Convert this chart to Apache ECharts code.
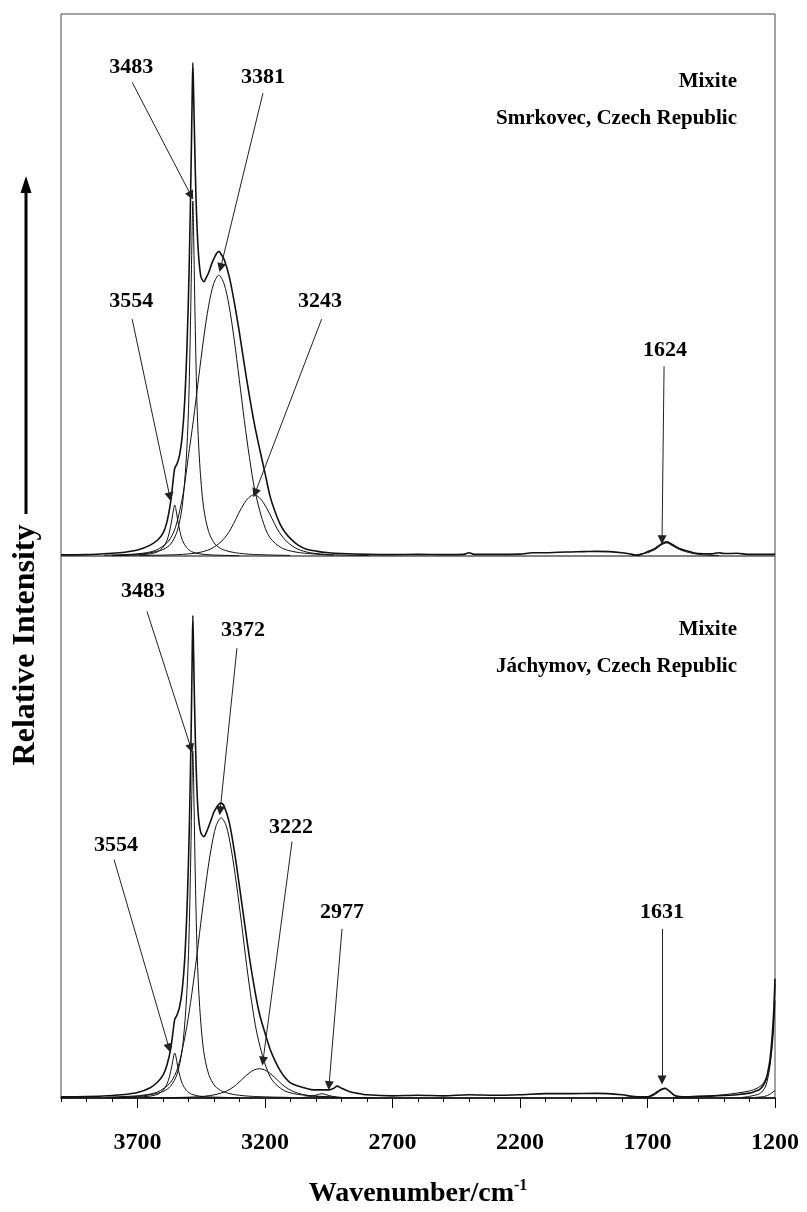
<!DOCTYPE html>
<html>
<head>
<meta charset="utf-8">
<script src="https://cdn.jsdelivr.net/npm/echarts@6/dist/echarts.min.js"></script>
<style>
  html, body { margin: 0; padding: 0; background: #fff; }
  #chart { width: 807px; height: 1212px; }
</style>
</head>
<body>
<div id="chart"></div>
<script>
// [wavenumber, relative intensity], 0..100 per panel

// --- Smrkovec (top panel)
const topTotal = [[4000,0.2],[3900,0.25],[3800,0.5],[3750,0.7],[3700,1.1],[3650,2.0],[3620,3.0],[3600,4.2],[3585,6.2],[3570,10],[3560,14],[3554,16.2],[3545,17],[3535,18.6],[3525,22],[3515,28.5],[3505,40],[3497,54],[3490,71.7],[3486,83.5],[3483,91],[3480,85.5],[3476,76.5],[3470,65.2],[3462,56.5],[3452,51.7],[3440,50.6],[3430,51.4],[3420,52.4],[3410,53.8],[3400,54.9],[3390,55.8],[3381,56.2],[3370,55.5],[3360,54.7],[3340,51.5],[3320,46.7],[3300,41.1],[3280,35.0],[3260,29.2],[3243,24.7],[3225,20.6],[3200,15.3],[3180,11.0],[3160,8.1],[3140,5.8],[3120,4.3],[3100,3.2],[3070,2.0],[3040,1.3],[3000,0.9],[2950,0.6],[2900,0.45],[2800,0.3],[2700,0.25],[2600,0.3],[2500,0.25],[2420,0.3],[2400,0.6],[2380,0.3],[2300,0.3],[2200,0.35],[2150,0.6],[2100,0.6],[2050,0.7],[2000,0.75],[1950,0.8],[1900,0.85],[1850,0.8],[1800,0.6],[1760,0.3],[1740,0.1],[1720,0.4],[1700,0.8],[1670,1.4],[1650,2.1],[1635,2.5],[1624,2.6],[1610,2.3],[1595,1.9],[1575,1.4],[1550,1.0],[1520,0.6],[1500,0.45],[1450,0.4],[1420,0.6],[1400,0.45],[1350,0.5],[1300,0.3],[1250,0.3],[1200,0.3]];
const top3554 = [[3800,0.05],[3700,0.2],[3650,0.4],[3620,0.8],[3600,1.6],[3585,2.8],[3575,4.4],[3565,6.8],[3558,8.8],[3554,9.4],[3550,8.8],[3543,6.8],[3533,4.4],[3523,2.8],[3508,1.6],[3488,0.8],[3458,0.4],[3408,0.2],[3300,0.05]];
const top3483 = [[3800,0.1],[3700,0.3],[3650,0.6],[3600,1.2],[3570,2.2],[3545,4.5],[3525,9],[3510,17],[3500,27],[3492,43.5],[3487,57],[3483,65.5],[3479,57],[3474,43.5],[3466,27],[3456,17],[3441,9],[3421,4.5],[3396,2.2],[3366,1.2],[3316,0.6],[3250,0.3],[3100,0.1]];
const top3381 = [[3831,0.15],[3701,0.4],[3631,1.0],[3581,2.6],[3551,5.3],[3521,11.5],[3501,18.2],[3481,25],[3461,32.6],[3441,40],[3421,46.2],[3401,50.3],[3381,51.8],[3361,50.3],[3341,46.2],[3321,40],[3301,32.6],[3281,25],[3261,18.2],[3241,12.4],[3211,6.8],[3181,3.4],[3131,1.4],[3061,0.6],[2931,0.15]];
const top3243 = [[3693,0.1],[3543,0.25],[3463,0.6],[3413,1.3],[3373,2.6],[3343,4.3],[3323,6.0],[3303,7.9],[3283,9.6],[3263,10.8],[3243,11.3],[3223,10.8],[3203,9.6],[3183,7.9],[3163,6.0],[3143,4.3],[3113,2.6],[3073,1.3],[3023,0.6],[2943,0.25],[2793,0.1]];
const top1624 = [[1760,0.1],[1700,0.6],[1670,1.2],[1650,1.9],[1635,2.3],[1624,2.4],[1610,2.1],[1595,1.7],[1575,1.2],[1550,0.8],[1520,0.45],[1480,0.2],[1420,0.1]];

// --- Jáchymov (bottom panel)
const botTotal = [[4000,0.2],[3900,0.25],[3800,0.45],[3750,0.65],[3700,1.0],[3650,1.9],[3620,3.0],[3600,4.2],[3585,6.0],[3570,9.0],[3560,12.5],[3554,14.5],[3545,15.3],[3535,16.8],[3525,19.8],[3515,25.5],[3505,36],[3497,49.5],[3490,66.5],[3486,80],[3483,89],[3480,82],[3476,72],[3470,61],[3462,52.5],[3452,49],[3440,48.2],[3430,49],[3420,50.2],[3410,51.5],[3400,52.8],[3390,53.6],[3381,54.2],[3372,54.4],[3360,53.8],[3340,50.8],[3320,45.5],[3300,39],[3280,32.2],[3260,25.6],[3240,19.9],[3222,15.6],[3200,12],[3180,9],[3160,6.8],[3140,5.0],[3120,3.7],[3100,2.8],[3070,2.2],[3040,1.8],[3010,1.5],[2980,1.5],[2950,1.5],[2930,1.8],[2918,2.2],[2900,1.8],[2870,1.2],[2840,0.9],[2800,0.6],[2700,0.4],[2600,0.5],[2500,0.4],[2400,0.6],[2300,0.5],[2200,0.6],[2100,0.8],[2000,0.8],[1900,0.85],[1800,0.6],[1760,0.3],[1720,0.2],[1700,0.2],[1680,0.6],[1660,1.2],[1645,1.6],[1631,1.8],[1620,1.5],[1605,0.9],[1590,0.4],[1560,0.2],[1500,0.3],[1450,0.35],[1400,0.45],[1350,0.6],[1300,0.9],[1280,1.2],[1260,1.6],[1245,2.4],[1235,3.4],[1228,4.8],[1220,7.0],[1214,9.8],[1208,13.5],[1204,17],[1200,22]];
const bot3554 = [[3800,0.05],[3700,0.18],[3650,0.35],[3620,0.7],[3600,1.4],[3585,2.5],[3575,3.9],[3565,6.0],[3558,7.8],[3554,8.3],[3550,7.8],[3543,6.0],[3533,3.9],[3523,2.5],[3508,1.4],[3488,0.7],[3458,0.35],[3408,0.18],[3300,0.05]];
const bot3483 = [[3800,0.1],[3700,0.3],[3650,0.6],[3600,1.2],[3570,2.2],[3545,4.4],[3525,8.8],[3510,16.7],[3500,26.5],[3492,42.5],[3487,56],[3483,64],[3479,56],[3474,42.5],[3466,26.5],[3456,16.7],[3441,8.8],[3421,4.4],[3396,2.2],[3366,1.2],[3316,0.6],[3250,0.3],[3100,0.1]];
const bot3372 = [[3822,0.15],[3692,0.45],[3622,1.1],[3572,2.8],[3542,5.6],[3512,11.8],[3492,17.6],[3472,24.5],[3452,32.2],[3432,39.5],[3412,45.8],[3392,50.2],[3372,51.7],[3352,50.2],[3332,45.8],[3312,39.5],[3292,32.2],[3272,24.5],[3252,17.6],[3232,12],[3202,6.6],[3172,3.3],[3122,1.3],[3052,0.55],[2922,0.18]];
const bot3222 = [[3672,0.05],[3522,0.12],[3442,0.3],[3392,0.65],[3352,1.25],[3322,2.1],[3302,2.9],[3282,3.8],[3262,4.6],[3242,5.2],[3222,5.4],[3202,5.2],[3182,4.6],[3162,3.8],[3142,2.9],[3122,2.1],[3092,1.25],[3052,0.65],[3002,0.3],[2922,0.12],[2772,0.05]];
const bot2977 = [[3060,0.05],[3020,0.3],[2995,0.6],[2977,0.8],[2960,0.6],[2935,0.3],[2890,0.05]];
const bot1631 = [[1710,0.05],[1680,0.4],[1660,1.0],[1645,1.5],[1631,1.7],[1618,1.4],[1605,0.8],[1590,0.35],[1560,0.1]];
const botEdgeA = [[1330,0.1],[1300,0.3],[1260,0.8],[1245,1.5],[1235,2.4],[1228,3.7],[1220,5.8],[1214,8.6],[1208,12.3],[1204,15.8],[1200,21]];
const botEdgeB = [[1600,0.1],[1500,0.3],[1400,0.6],[1350,0.9],[1300,1.3],[1270,1.8],[1250,2.5],[1240,3.2],[1230,4.3],[1220,6.2],[1212,9],[1206,12.5],[1200,18]];
const botEdgeC = [[1280,0.1],[1240,0.3],[1220,0.7],[1200,1.4]];

// band labels: text position, arrow start, arrow tip
const topLabels = ['3483', '3381', '3554', '3243', '1624'];
const topLabelAt = [[3725,90.2],[3208,88.4],[3725,46.9],[2984,46.9],[1631,38]];
const topArrowFrom = [[3721,87.4],[3208,85.4],[3721,43.7],[2978,43.7],[1635,35]];
const topArrowTo = [[3490,66.5],[3374,53.2],[3573,10.9],[3239,11.6],[1643,3.0]];

const botLabels = ['3483', '3372', '3222', '3554', '2977', '1631'];
const botLabelAt = [[3678,93.4],[3286,86.2],[3098,50],[3784,46.7],[2898,34.3],[1643,34.3]];
const botArrowFrom = [[3663,89.8],[3310,83],[3094,47.3],[3792,44],[2898,31.2],[1643,31.2]];
const botArrowTo = [[3490,64.5],[3376,53],[3208,6.8],[3576,9.2],[2949,2.3],[1643,3.3]];

const xTicks = [1200, 1700, 2200, 2700, 3200, 3700];

const serif = '"Liberation Serif", "Times New Roman", serif';

function lineSeries(data, gridIdx, width) {
  return {
    type: 'line',
    xAxisIndex: gridIdx === 0 ? 0 : 1,
    yAxisIndex: gridIdx,
    data: data,
    smooth: 0.3,
    showSymbol: false,
    silent: true,
    lineStyle: { color: '#111', width: width },
    z: 3
  };
}

function labelSeries(names, at, from, to, gridIdx) {
  return {
    type: 'scatter',
    xAxisIndex: gridIdx === 0 ? 0 : 1,
    yAxisIndex: gridIdx,
    symbolSize: 0,
    itemStyle: { color: '#000' },
    silent: true,
    data: at.map((p, i) => ({ name: names[i], value: p })),
    label: {
      show: true,
      position: 'inside',
      formatter: '{b}',
      color: '#000',
      opacity: 1,
      fontFamily: serif,
      fontWeight: 'bold',
      fontSize: 22
    },
    markLine: {
      silent: true,
      symbol: ['none', 'triangle'],
      symbolSize: 9,
      label: { show: false },
      lineStyle: { color: '#222', width: 1, type: 'solid' },
      data: from.map((p, i) => [{ coord: p }, { coord: to[i] }])
    },
    z: 5
  };
}

function sampleText(x, y, text) {
  return {
    type: 'text', x: x, y: y,
    style: {
      text: text, fill: '#000', font: 'bold 21px ' + serif,
      textAlign: 'right', textVerticalAlign: 'middle'
    }
  };
}

const chart = echarts.init(document.getElementById('chart'));

const option = {
  animation: false,
  backgroundColor: '#fff',
  grid: [
    { left: 61, right: 32, top: 14, height: 542, show: true, borderColor: '#444', borderWidth: 1 },
    { left: 61, right: 32, top: 556, height: 542, show: true, borderColor: '#444', borderWidth: 1 }
  ],
  xAxis: [
    {
      type: 'value', gridIndex: 0, min: 1200, max: 4000, inverse: true,
      axisLine: { show: true, lineStyle: { color: '#888', width: 1.5 } },
      axisTick: { show: false }, axisLabel: { show: false }, splitLine: { show: false }
    },
    {
      type: 'value', gridIndex: 1, min: 1200, max: 4000, inverse: true, interval: 500,
      axisLine: { show: true, onZero: false, lineStyle: { color: '#000', width: 1.5 } },
      axisTick: { show: true, length: 10, lineStyle: { color: '#000', width: 1 } },
      axisLabel: {
        show: true, margin: 33, color: '#000', fontFamily: serif, fontWeight: 'bold', fontSize: 24,
        showMaxLabel: false,
        formatter: v => (xTicks.indexOf(v) >= 0 ? String(v) : '')
      },
      splitLine: { show: false },
      name: '{a|Wavenumber/cm}{b|-1}',
      nameLocation: 'middle',
      nameGap: 80,
      nameTextStyle: {
        rich: {
          a: { fontFamily: serif, fontWeight: 'bold', fontSize: 28, color: '#000' },
          b: { fontFamily: serif, fontWeight: 'bold', fontSize: 16, color: '#000', padding: [0, 0, 16, 0] }
        }
      }
    },
    {
      // small inward ticks every 100 cm-1
      type: 'value', gridIndex: 1, min: 1200, max: 4000, inverse: true, interval: 100,
      axisLine: { show: false },
      axisTick: { show: true, inside: true, length: 4, lineStyle: { color: '#000', width: 1 } },
      axisLabel: { show: false }, splitLine: { show: false }
    }
  ],
  yAxis: [
    { type: 'value', gridIndex: 0, min: 0, max: 100, show: false },
    { type: 'value', gridIndex: 1, min: 0, max: 100, show: false }
  ],
  graphic: [
    {
      type: 'text', x: 26, y: 645, rotation: Math.PI / 2,
      style: {
        text: 'Relative Intensity', fill: '#000',
        font: 'bold 32px ' + serif, textAlign: 'center', textVerticalAlign: 'middle'
      }
    },
    { type: 'line', shape: { x1: 26, y1: 514, x2: 26, y2: 190 }, style: { stroke: '#000', lineWidth: 3 } },
    { type: 'polygon', shape: { points: [[26, 176], [20.5, 193], [31.5, 193]] }, style: { fill: '#000' } },
    sampleText(737, 82, 'Mixite'),
    sampleText(737, 119, 'Smrkovec, Czech Republic'),
    sampleText(737, 630, 'Mixite'),
    sampleText(737, 667, 'Jáchymov, Czech Republic')
  ],
  series: [
    lineSeries(top3554, 0, 1), lineSeries(top3483, 0, 1), lineSeries(top3381, 0, 1),
    lineSeries(top3243, 0, 1), lineSeries(top1624, 0, 1), lineSeries(topTotal, 0, 1.6),
    lineSeries(bot3554, 1, 1), lineSeries(bot3483, 1, 1), lineSeries(bot3372, 1, 1),
    lineSeries(bot3222, 1, 1), lineSeries(bot2977, 1, 1), lineSeries(bot1631, 1, 1),
    lineSeries(botEdgeA, 1, 1), lineSeries(botEdgeB, 1, 1), lineSeries(botEdgeC, 1, 1),
    lineSeries(botTotal, 1, 1.6),
    labelSeries(topLabels, topLabelAt, topArrowFrom, topArrowTo, 0),
    labelSeries(botLabels, botLabelAt, botArrowFrom, botArrowTo, 1)
  ]
};

chart.setOption(option);
</script>
</body>
</html>
